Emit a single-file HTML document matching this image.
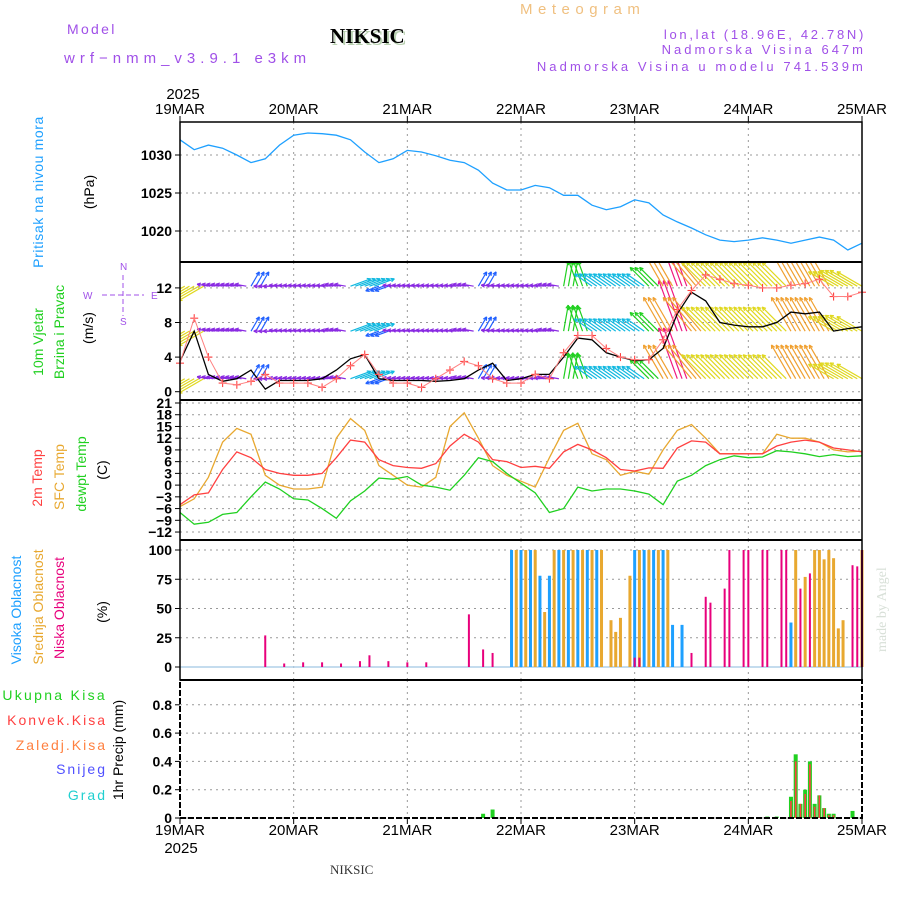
<!DOCTYPE html>
<html><head><meta charset="utf-8">
<style>
html,body{margin:0;padding:0;background:#fff;}
svg{display:block;font-family:"Liberation Sans",sans-serif;}
</style></head>
<body>
<svg id="chart" width="900" height="900" viewBox="0 0 900 900" xmlns="http://www.w3.org/2000/svg">
<g>
<text x="67" y="34" font-size="14" fill="#a050e8" letter-spacing="2.3">Model</text>
<text x="64" y="63" font-size="15" fill="#a050e8" letter-spacing="5">wrf−nmm_v3.9.1 e3km</text>
<text x="332" y="45" font-size="21" font-weight="bold" font-family="Liberation Serif,serif" fill="#b8d0b0">NIKSIC</text>
<text x="330" y="43" font-size="21" font-weight="bold" font-family="Liberation Serif,serif" fill="#000">NIKSIC</text>
<text x="520" y="14" font-size="15" fill="#f0c080" letter-spacing="5.5">Meteogram</text>
<text x="866" y="39" font-size="13" fill="#a050e8" text-anchor="end" letter-spacing="2.7">lon,lat (18.96E, 42.78N)</text>
<text x="866" y="54" font-size="13" fill="#a050e8" text-anchor="end" letter-spacing="3">Nadmorska Visina 647m</text>
<text x="866" y="71" font-size="13" fill="#a050e8" text-anchor="end" letter-spacing="3.1">Nadmorska Visina u modelu 741.539m</text>
<text x="330" y="874" font-size="13" font-family="Liberation Serif,serif" fill="#333">NIKSIC</text>
<text transform="translate(886,652) rotate(-90)" font-size="14" font-family="Liberation Serif,serif" fill="#d8e0d8">made by Angel</text>
</g>
<g font-size="14">
<text transform="translate(43,192) rotate(-90)" text-anchor="middle" fill="#1ea0ff" letter-spacing="0.6">Pritisak na nivou mora</text>
<text transform="translate(94,192) rotate(-90)" text-anchor="middle" fill="#000">(hPa)</text>
<text transform="translate(43,342) rotate(-90)" text-anchor="middle" fill="#20d020">10m Vjetar</text>
<text transform="translate(64,332) rotate(-90)" text-anchor="middle" fill="#20d020">Brzina i Pravac</text>
<text transform="translate(93,328) rotate(-90)" text-anchor="middle" fill="#000">(m/s)</text>
<text transform="translate(42,478) rotate(-90)" text-anchor="middle" fill="#ff4040">2m Temp</text>
<text transform="translate(64,477) rotate(-90)" text-anchor="middle" fill="#e8a830">SFC Temp</text>
<text transform="translate(86,474) rotate(-90)" text-anchor="middle" fill="#20d020">dewpt Temp</text>
<text transform="translate(107,470) rotate(-90)" text-anchor="middle" fill="#000">(C)</text>
<text transform="translate(21,610) rotate(-90)" text-anchor="middle" fill="#1ea0ff">Visoka Oblacnost</text>
<text transform="translate(43,607) rotate(-90)" text-anchor="middle" fill="#e8a830">Srednja Oblacnost</text>
<text transform="translate(64,608) rotate(-90)" text-anchor="middle" fill="#e8007c">Niska Oblacnost</text>
<text transform="translate(107,612) rotate(-90)" text-anchor="middle" fill="#000">(%)</text>
<text transform="translate(123,750) rotate(-90)" text-anchor="middle" fill="#000">1hr Precip (mm)</text>
<text x="107" y="700" text-anchor="end" fill="#20d020" letter-spacing="2.3">Ukupna Kisa</text>
<text x="107" y="725" text-anchor="end" fill="#ff4040" letter-spacing="2">Konvek.Kisa</text>
<text x="107" y="750" text-anchor="end" fill="#ff8040" letter-spacing="2">Zaledj.Kisa</text>
<text x="107" y="774" text-anchor="end" fill="#5050ff" letter-spacing="2">Snijeg</text>
<text x="107" y="800" text-anchor="end" fill="#20d0d0" letter-spacing="2">Grad</text>
</g>
<g fill="#a050e8" font-size="10" stroke="none">
<text x="120" y="270">N</text><text x="83" y="299">W</text><text x="151" y="299">E</text><text x="120" y="325">S</text>
<line x1="102" y1="295" x2="144" y2="295" stroke="#a050e8" stroke-dasharray="5,3"/>
<line x1="123" y1="275" x2="123" y2="316" stroke="#a050e8" stroke-dasharray="5,3"/>
</g>
<g id="plots"></g>
</svg>
<script>
const hours=[0,3,6,9,12,15,18,21,24,27,30,33,36,39,42,45,48,51,54,57,60,63,66,69,72,75,78,81,84,87,90,93,96,99,102,105,108,111,114,117,120,123,126,129,132,135,138,141,144];
const pressure=[1032,1030.7,1031.3,1030.9,1030,1029,1029.5,1031.3,1032.6,1032.9,1032.8,1032.6,1032,1030.4,1029,1029.5,1030.6,1030.4,1029.9,1029.3,1029,1028,1026.3,1025.4,1025.4,1026,1025.7,1024.7,1024.7,1023.4,1022.8,1023.2,1024.1,1023.7,1022.1,1021.2,1020.4,1019.5,1018.8,1018.6,1018.8,1019.1,1018.8,1018.4,1018.8,1019.2,1018.8,1017.5,1018.4];
const temp2m=[-5,-2.5,-2,4,8.5,7,4,3,2.5,2.5,3,7,11.5,11,6.5,5,4.5,4.3,5.5,10,13,11,6.5,6,4.5,4.8,4.3,8.5,10.4,9,7,4,3.6,4.4,4.3,9.5,11.3,11,8,8,8,8,10,11,11.5,11,9.5,9,8.5];
const tempSfc=[-5.5,-3.5,2,11,14.5,13,2.5,0,-1,-1,-0.5,12,17,14,5,2.5,0,-0.5,2,15,18.5,12,5,2.5,1,-0.5,7,14,15.8,8,6.5,2.5,3.5,2.8,9,14,15.5,12,8,8,8,8,13,12,12,11,9,8.5,8.7];
const dewpt=[-7,-10,-9.5,-7.5,-7,-3,0.8,-1,-3.5,-3.8,-6,-8.5,-4,-1.5,1.8,1.5,2.2,0,-0.5,-1.3,2.5,7,6,3,0.5,-2,-7,-6,-0.5,-1.5,-1,-1,-1.5,-2.3,-5,1,2.5,5,6.5,7.5,7,7.2,8.8,8.5,8,7.3,7.8,7.3,7.5];
const windSpeed=[3.5,7,2,1.2,1.5,2.5,0.3,1.3,1.3,1.3,1.5,2.5,3.8,4.3,1.5,1.3,1.3,1.3,1.2,1.3,1.5,2.5,3.3,1.3,1.5,2,2,4,6.2,6,4.5,4,3.6,3.7,5,9,11.5,10.5,8,7.7,7.5,7.5,8,9.2,9,9.2,7,7.3,7.5];
const windGust=[3.3,8.5,4,1,0.8,1.2,2,1,1,1,0.5,1.5,3,4.3,2,1,1,0.5,1.5,2.5,3.5,3,1.5,1,1,2,1.5,4.5,6.5,6.5,5,4,3.7,3.7,6,9.5,11.7,13.5,13,12.5,12.3,12,12,12.3,12.5,13,11,11,11.5];
const arrowSpeed=[5,5,1.5,1.5,1.5,2.5,1.5,1.3,1.3,1.3,1.3,1.5,3.5,3.5,2,1.3,1.3,1.3,1.3,1.3,1.5,2.5,1.5,1.3,1.3,1.3,1.5,4.5,4.5,3.5,3.5,3.5,3.5,4.5,7,10,8,6,6,6,6,6,6,7,7,7,5,5.5,5];
const arrowDir=[210,210,170,170,170,60,180,175,175,175,175,170,20,20,200,175,175,175,175,175,170,60,175,175,175,175,170,80,110,145,145,145,145,135,120,110,130,135,135,135,135,135,135,120,120,120,150,150,150];
const rowBases=[1.5,7,12.2];
const highHours=[70,72,74,76,78,80,82,84,86,88,96,98,100,102,104,106,129];
const highVals=[100,100,100,78,78,100,100,100,100,100,100,100,100,100,36,36,38];
const midHours=[71,73,75,77,79,81,83,85,87,89,91,92,93,95,97,99,101,103,130,132,134,135,136,137,138,139,140,144];
const midVals=[100,100,100,47,100,100,100,100,100,100,40,30,42,78,100,100,100,100,100,77,100,100,92,100,93,33,40,100];
const lowHours=[18,22,26,30,34,38,40,44,48,52,61,64,66,96,97,108,111,112,115,116,119,120,123,124,127,128,131,133,142,143,144];
const lowVals=[27,3,4,4,3,5,10,5,4,4,45,15,12,8,8,12,60,55,67,100,100,100,100,100,100,100,67,80,87,86,100];
const precipHours=[64,66,124,126,129,130,131,132,133,134,135,136,137,138,142];
const precipTotal=[0.03,0.06,0.01,0.01,0.15,0.45,0.1,0.2,0.4,0.1,0.16,0.07,0.03,0.03,0.05];
const precipConv=[0,0,0,0,0.12,0.4,0.1,0.17,0.38,0.08,0.16,0.07,0.02,0.02,0];
const dayLabels=['19MAR','20MAR','21MAR','22MAR','23MAR','24MAR','25MAR'];
const pressTicks=[1020,1025,1030];
const windTicks=[0,4,8,12];
const tempTicks=[-12,-9,-6,-3,0,3,6,9,12,15,18,21];
const cloudTicks=[0,25,50,75,100];
const precipTicks=[0,0.2,0.4,0.6,0.8];

const NS='http://www.w3.org/2000/svg';
const root=document.getElementById('plots');
function mk(tag,attrs,parent){const e=document.createElementNS(NS,tag);for(const k in attrs)e.setAttribute(k,attrs[k]);(parent||root).appendChild(e);return e;}
const X0=180,X1=862;
const x=t=>X0+t*(X1-X0)/144;
const yP=v=>155+(1030-v)*7.6;
const yW=v=>391.7-v*8.65;
const yT=v=>403+(21-v)*3.91;
const yC=v=>667-v*1.17;
const yR=v=>818-v*141.5;

function grid(yf,ticks,top,bot,fmt,name){
  const g=mk('g',{});
  
  
  for(let d=1;d<6;d++){const l=mk('line',{x1:x(d*24),x2:x(d*24),y1:top,y2:bot,stroke:'#999','stroke-dasharray':'2,4'},g);}
  ticks.forEach(v=>{
    const yy=yf(v);
    const l=mk('line',{x1:X0,x2:X1,y1:yy,y2:yy,stroke:'#999','stroke-dasharray':'2,4'},g);
    
    mk('line',{x1:X0-5,x2:X0,y1:yy,y2:yy,stroke:'#000'},g);
    const t=mk('text',{x:X0-8,y:yy+5,'text-anchor':'end','font-size':'14','font-weight':'bold',fill:'#000'},g);
    
    t.textContent=fmt(v);
  });
}
function path(xs,ys,color,name,w){
  let d='';xs.forEach((t,i)=>{d+=(i?'L':'M')+x(t).toFixed(1)+','+ys[i].toFixed(1);});
  const p=mk('path',{d:d,fill:'none',stroke:color,'stroke-width':w||1.3});
  
  return p;
}
grid(yP,pressTicks,122,262,v=>v,'pressure');
grid(yW,windTicks,262,400,v=>v,'wind');
grid(yT,tempTicks,400,540,v=>v<0?'−'+(-v):v,'temp');
grid(yC,cloudTicks,540,680,v=>v,'cloud');
grid(yR,precipTicks,680,818,v=>v===0?'0':v.toFixed(1),'precip');

path(hours,pressure.map(yP),'#1ea0ff','pressure-line');

const clip=mk('clipPath',{id:'wclip'});mk('rect',{x:X0,y:262,width:X1-X0,height:138},clip);
const wg=mk('g',{'clip-path':'url(#wclip)'});

function wcol(s){if(s<2)return '#8a2be2';if(s<3)return '#2060ff';if(s<4)return '#10b8e0';if(s<5)return '#20d020';if(s<6.5)return '#e0d820';if(s<9)return '#f0a030';return '#f01880';}
rowBases.forEach(b=>{
  hours.forEach((t,i)=>{
    const s=arrowSpeed[i],a=arrowDir[i]*Math.PI/180,L=4+s*5;
    const c=wcol(s);
    const reps=(i<hours.length-1)?3:1;
    for(let k=0;k<reps;k++){
      const x0=x(t+k),y0=yW(b),x1=x0+L*Math.cos(a),y1=y0-L*Math.sin(a);
      const g=mk('g',{stroke:c,'stroke-width':1.2,fill:'none'},wg);
      
      mk('line',{x1:x0,y1:y0,x2:x1,y2:y1},g);
      const h=4;[0.45,-0.45].forEach(o=>{mk('line',{x1:x1,y1:y1,x2:x1-h*Math.cos(a+o),y2:y1+h*Math.sin(a+o)},g);});
    }
  });
});
path(hours,windSpeed.map(yW),'#000','wind-speed-line');
const gg=mk('g',{stroke:'#ff4040','stroke-width':1.1});

path(hours,windGust.map(yW),'#ff8080','wind-gust-line',1);
hours.forEach((t,i)=>{const cx=x(t),cy=yW(windGust[i]);mk('line',{x1:cx-4,x2:cx+4,y1:cy,y2:cy},gg);mk('line',{x1:cx,x2:cx,y1:cy-4,y2:cy+4},gg);});

path(hours,tempSfc.map(yT),'#e8a830','sfc-temp-line');
path(hours,temp2m.map(yT),'#ff4040','temp-2m-line');
path(hours,dewpt.map(yT),'#20d020','dewpoint-line');

function bars(hs,vs,color,name,w){
  const g=mk('g',{fill:color});
  hs.forEach((t,i)=>{const r=mk('rect',{x:x(t)-w/2,y:yC(vs[i]),width:w,height:yC(0)-yC(vs[i])},g);});
}
mk('line',{x1:X0,x2:X1,y1:yC(0),y2:yC(0),stroke:'#b0d0e8','stroke-width':1.5});
bars(highHours,highVals,'#1ea0ff','high-cloud',3);
bars(midHours,midVals,'#e8a830','mid-cloud',3);
bars(lowHours,lowVals,'#e8007c','low-cloud',2);

const pg=mk('g',{});
precipHours.forEach((t,i)=>{
  const r=mk('rect',{x:x(t)-2,y:yR(precipTotal[i]),width:4,height:yR(0)-yR(precipTotal[i]),fill:'#20d020'},pg);
  
  if(precipConv[i]>0){const c=mk('rect',{x:x(t)-0.8,y:yR(precipConv[i]),width:1.6,height:yR(0)-yR(precipConv[i]),fill:'#ff4040'},pg);}
});

const fr=mk('g',{fill:'none',stroke:'#000'});
mk('rect',{x:X0,y:122,width:X1-X0,height:558,'stroke-width':1.5},fr);
[262,400,540,680].forEach(yy=>mk('line',{x1:X0,x2:X1,y1:yy,y2:yy,'stroke-width':2},fr));
mk('rect',{x:X0,y:680,width:X1-X0,height:138,'stroke-width':2,'stroke-dasharray':'6,2'},fr);

dayLabels.forEach((d,i)=>{
  const t1=mk('text',{x:x(i*24),y:114,'text-anchor':'middle','font-size':'15',fill:'#000'});
  t1.textContent=d;
  const t2=mk('text',{x:x(i*24),y:835,'text-anchor':'middle','font-size':'15',fill:'#000'});
  t2.textContent=d;
  mk('line',{x1:x(i*24),x2:x(i*24),y1:116,y2:122,stroke:'#000'});
  mk('line',{x1:x(i*24),x2:x(i*24),y1:818,y2:824,stroke:'#000'});
});
const y1=mk('text',{x:183,y:99,'text-anchor':'middle','font-size':'15',fill:'#000'});y1.textContent='2025';
const y2=mk('text',{x:181,y:853,'text-anchor':'middle','font-size':'15',fill:'#000'});y2.textContent='2025';
</script>
</body></html>
